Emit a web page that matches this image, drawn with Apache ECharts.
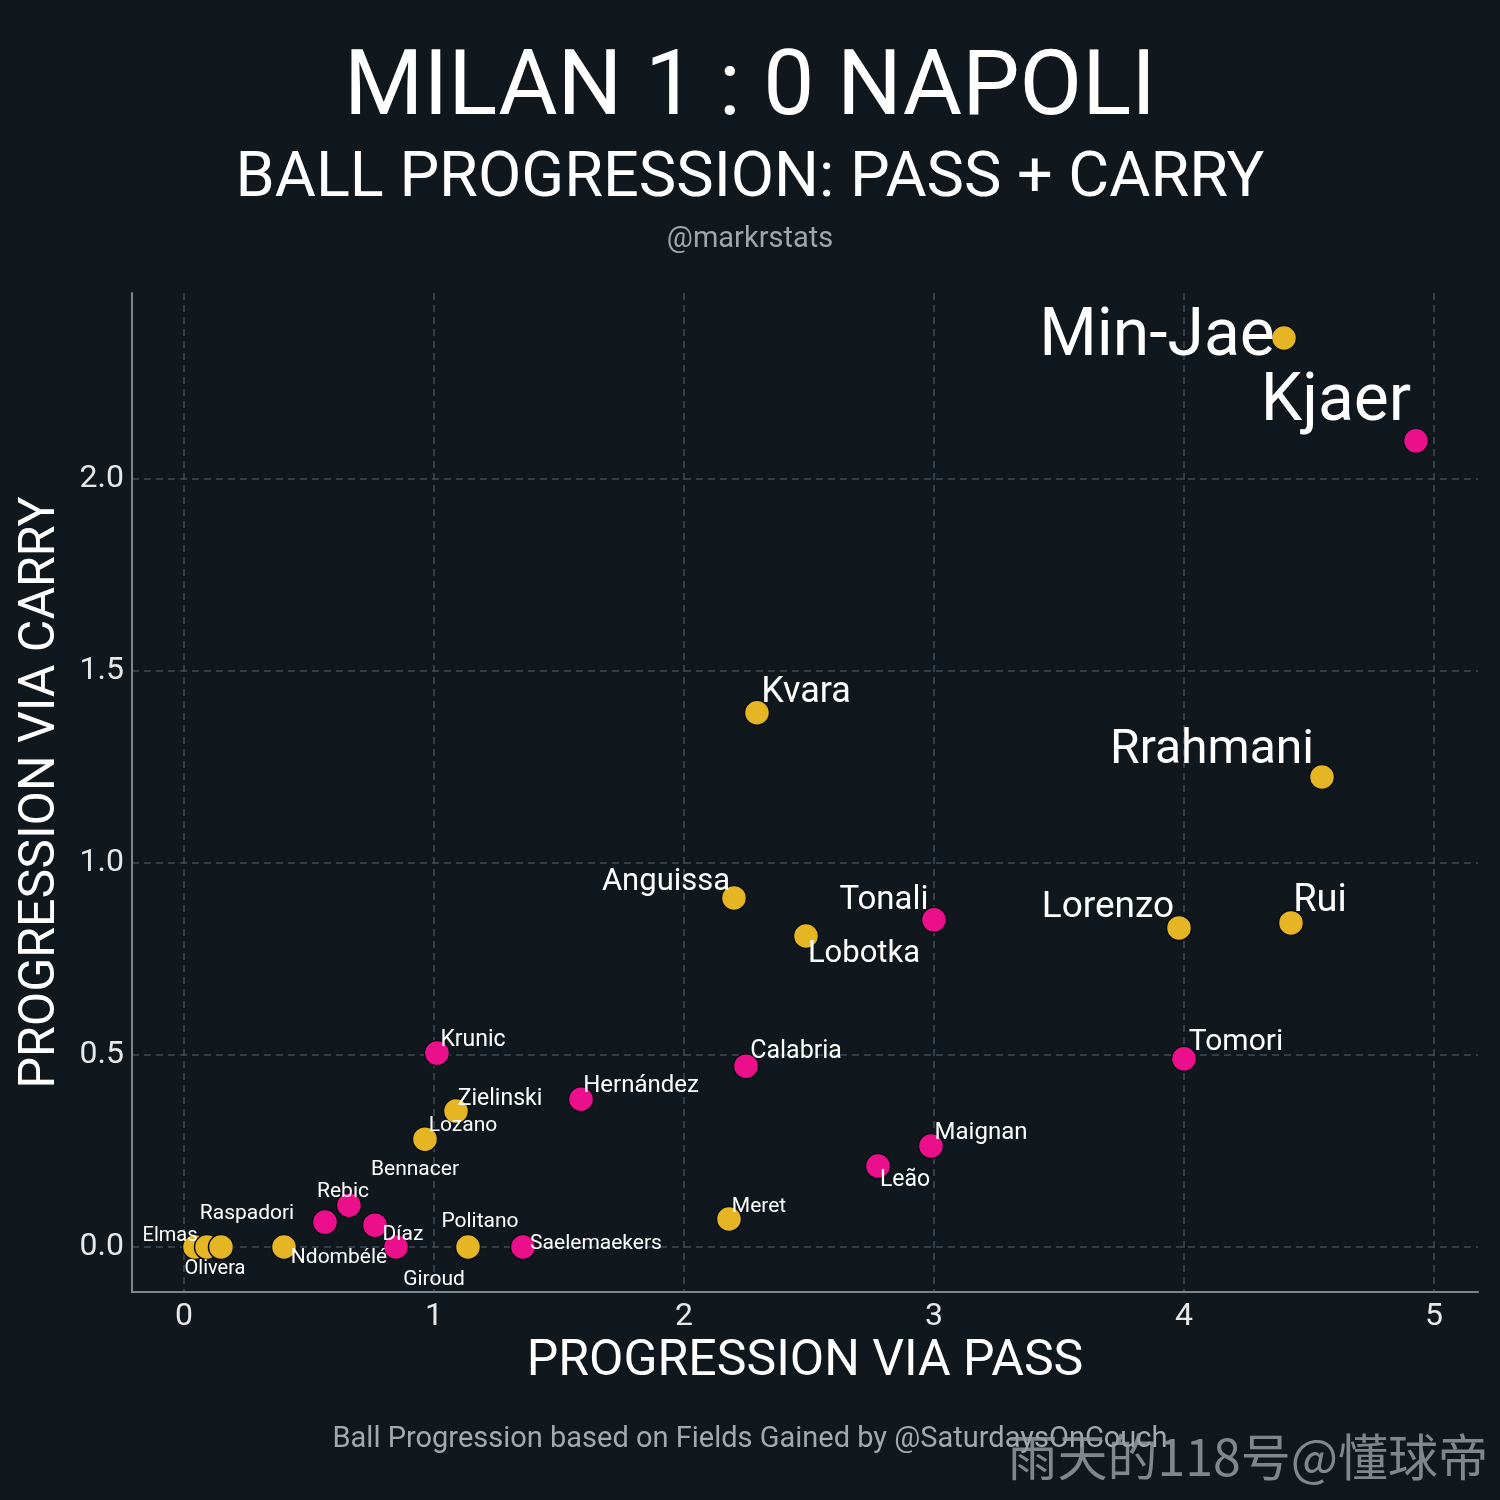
<!DOCTYPE html>
<html>
<head>
<meta charset="utf-8">
<script src="https://cdn.jsdelivr.net/npm/echarts@6/dist/echarts.min.js"></script>
<style>
html,body{margin:0;padding:0;background:#10171d;}
#chart{width:1500px;height:1500px;}
</style>
</head>
<body>
<div id="chart"></div>
<script>
// ---- data ----
const napoliNames = ['Min-Jae','Kvara','Rrahmani','Anguissa','Lobotka','Lorenzo','Rui','Zielinski','Lozano','Meret','Elmas','Raspadori','Olivera','Ndombélé','Politano'];
const napoliPass  = [4.40, 2.292, 4.552, 2.20, 2.488, 3.98, 4.428, 1.088, 0.964, 2.18, 0.044, 0.092, 0.148, 0.40, 1.136];
const napoliCarry = [2.367, 1.391, 1.224, 0.909, 0.810, 0.831, 0.844, 0.354, 0.281, 0.073, 0, 0, 0, 0, 0];

const milanNames = ['Kjaer','Tonali','Tomori','Krunic','Calabria','Hernández','Maignan','Leão','Rebic','Bennacer','Díaz','Giroud','Saelemaekers'];
const milanPass  = [4.928, 3.0, 4.0, 1.012, 2.248, 1.588, 2.988, 2.776, 0.66, 0.564, 0.764, 0.848, 1.356];
const milanCarry = [2.099, 0.852, 0.490, 0.505, 0.471, 0.385, 0.263, 0.211, 0.109, 0.065, 0.057, 0, 0];

const xTicks = [0, 1, 2, 3, 4, 5];
const yTicks = [0, 0.5, 1.0, 1.5, 2.0];

// ---- label styling (font size, offset from point) ----
const labelStyle = {
  'Min-Jae':[66,-127,-5], 'Kjaer':[66,-80,-43], 'Rrahmani':[48,-110,-30], 'Rui':[38,29,-24],
  'Lorenzo':[37,-71,-23], 'Kvara':[36,49,-23], 'Tonali':[33,-50,-22], 'Anguissa':[31,-68,-19],
  'Lobotka':[31,58,15], 'Tomori':[30,52,-19], 'Calabria':[25,50,-16], 'Maignan':[24,50,-15],
  'Hernández':[24,60,-15], 'Krunic':[23,36,-15], 'Zielinski':[23,44,-14], 'Leão':[23,27,12],
  'Lozano':[21,38,-15], 'Meret':[21,30,-14], 'Bennacer':[21,90,-54], 'Rebic':[21,-6,-15],
  'Díaz':[21,28,8], 'Giroud':[21,38,31], 'Saelemaekers':[21,73,-5], 'Politano':[21,12,-27],
  'Ndombélé':[21,55,9], 'Raspadori':[21,40,-35], 'Elmas':[20,-25,-13], 'Olivera':[20,-6,20]
};

function buildData(names, xs, ys){
  return names.map((n,i)=>{
    const s = labelStyle[n] || [21,0,-20];
    return {
      name:n, value:[xs[i], ys[i]],
      label:{fontSize:s[0], offset:[s[1], s[2] + Math.round(0.09*s[0])]}
    };
  });
}

const chart = echarts.init(document.getElementById('chart'));
const FONT = 'Roboto';
const pointStyle = (c)=>({color:c, borderColor:'#0b1015', borderWidth:1.5, opacity:1});
const labelBase = {show:true, position:'inside', formatter:'{b}', color:'#ffffff', fontFamily:FONT, align:'center', verticalAlign:'middle'};

chart.setOption({
  backgroundColor:'#10171d',
  animation:false,
  textStyle:{fontFamily:FONT},
  graphic:[
    {type:'text', left:'center', top:46, style:{text:'MILAN 1 : 0 NAPOLI', fill:'#ffffff', font:'91px Roboto'}},
    {type:'text', left:'center', top:149, style:{text:'BALL PROGRESSION: PASS + CARRY', fill:'#ffffff', font:'63px Roboto'}},
    {type:'text', left:'center', top:225, style:{text:'@markrstats', fill:'#9ea6ad', font:'29px Roboto'}},
    {type:'text', left:'center', top:1425, style:{text:'Ball Progression based on Fields Gained by @SaturdaysOnCouch', fill:'#a3a9ae', font:'29px Roboto'}},
    {type:'text', right:12, top:1432, style:{text:'雨天的118号@懂球帝', fill:'rgba(150,155,160,0.85)', font:'50px "Noto Sans CJK SC"'}}
  ],
  grid:{left:132, right:22, top:293, bottom:208, containLabel:false},
  xAxis:{
    type:'value', min:-0.208, max:5.176,
    name:'PROGRESSION VIA PASS', nameLocation:'middle', nameGap:41,
    nameTextStyle:{color:'#ffffff', fontSize:50, fontFamily:FONT},
    axisLine:{show:true, onZero:false, lineStyle:{color:'#7d878e', width:2}},
    axisTick:{show:false, customValues:xTicks},
    axisLabel:{customValues:xTicks, color:'#e8e8e8', fontSize:32, margin:9, fontFamily:FONT},
    splitLine:{show:true, lineStyle:{color:'#3f4d57', width:1.5, type:[7,5]}}
  },
  yAxis:{
    type:'value', min:-0.117, max:2.484,
    name:'PROGRESSION VIA CARRY', nameLocation:'middle', nameGap:66, nameRotate:90,
    nameTextStyle:{color:'#ffffff', fontSize:50, fontFamily:FONT},
    axisLine:{show:true, onZero:false, lineStyle:{color:'#7d878e', width:2}},
    axisTick:{show:false, customValues:yTicks},
    axisLabel:{customValues:yTicks, color:'#e8e8e8', fontSize:32, margin:8, fontFamily:FONT,
      formatter:(v)=>Number(v).toFixed(1)},
    splitLine:{show:true, lineStyle:{color:'#3f4d57', width:1.5, type:[7,5]}}
  },
  series:[
    {type:'scatter', name:'Napoli', symbolSize:25, itemStyle:pointStyle('#e6b523'),
     label:labelBase, data:buildData(napoliNames, napoliPass, napoliCarry), z:3},
    {type:'scatter', name:'Milan', symbolSize:25, itemStyle:pointStyle('#ec0f8c'),
     label:labelBase, data:buildData(milanNames, milanPass, milanCarry), z:3}
  ]
});
</script>
</body>
</html>
